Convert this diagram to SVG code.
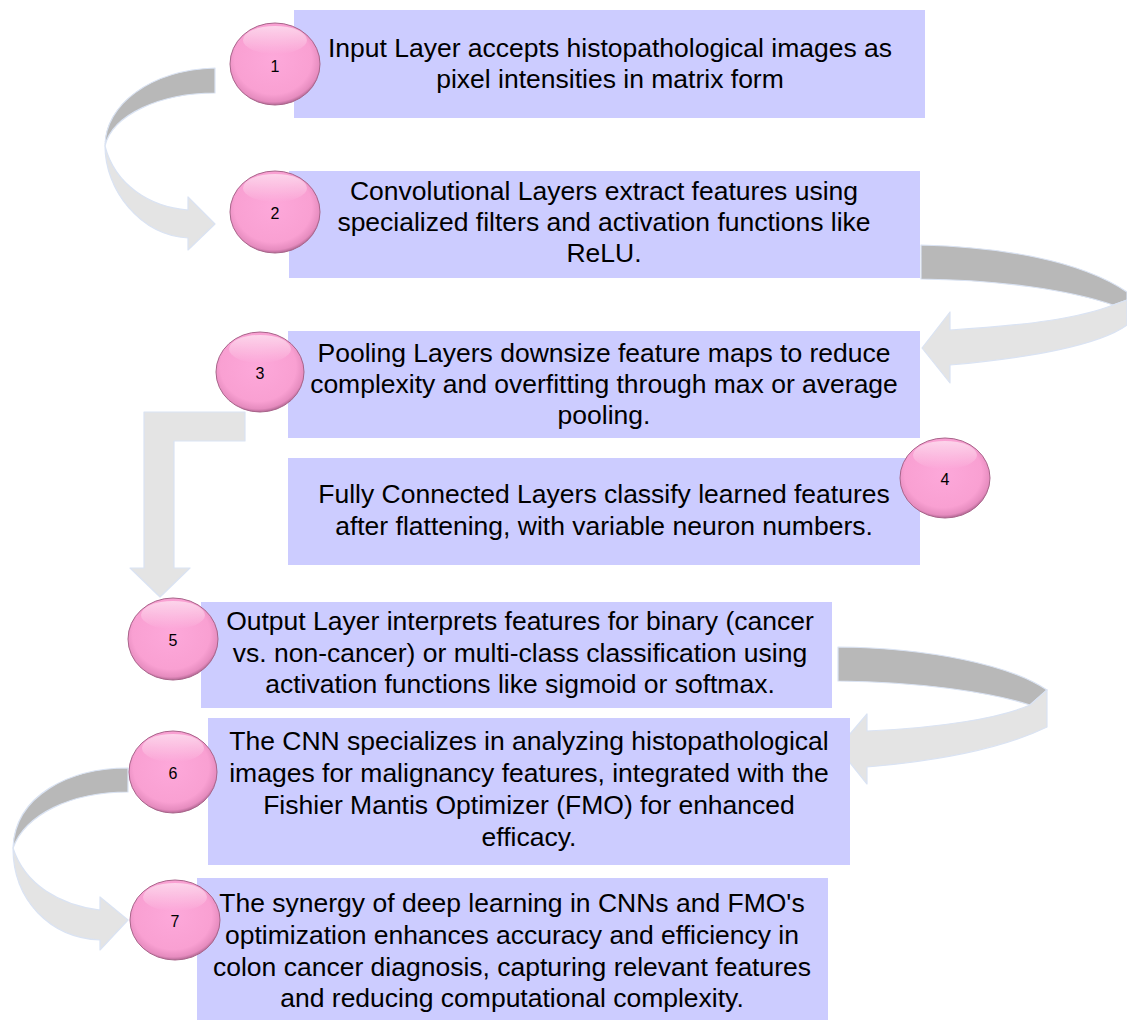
<svg xmlns="http://www.w3.org/2000/svg" width="1127" height="1023" viewBox="0 0 1127 1023">
<defs>
<style>
.box{fill:#ccccff}
.t{font-family:"Liberation Sans",Arial,sans-serif;font-size:26.5px;fill:#000;text-anchor:middle}
.n{font-family:"Liberation Sans",Arial,sans-serif;font-size:16px;fill:#000;text-anchor:middle;dominant-baseline:central}
.dk{fill:#b8b8b8;stroke:#dae3f3;stroke-width:1.2;stroke-linejoin:round}
.lt{fill:#e4e4e4;stroke:#dae3f3;stroke-width:1.2;stroke-linejoin:round}
.ball{fill:url(#pk);stroke:#a8648a;stroke-width:1}
.hl{fill:url(#hlg)}
</style>
<radialGradient id="pk" cx="48%" cy="44%" r="58%">
<stop offset="0" stop-color="#fda8da"/>
<stop offset="0.74" stop-color="#f9a0d2"/>
<stop offset="0.9" stop-color="#e68cbf"/>
<stop offset="1" stop-color="#9c5680"/>
</radialGradient>
<linearGradient id="hlg" x1="0" y1="0" x2="0" y2="1">
<stop offset="0" stop-color="#ffffff" stop-opacity="0.55"/>
<stop offset="1" stop-color="#ffffff" stop-opacity="0"/>
</linearGradient>
</defs>
<rect width="1127" height="1023" fill="#ffffff"/>

<g id="connectors">
<g id="arrow-1-2">
<path class="dk" d="M215,68 C150,70 105,105 105,146 C112,115 160,93 215,93 Z"/>
<path class="lt" d="M105,146 C105,190 140,235 188,238 L188,250 L215,224 L188,197 L188,210 C150,207 115,185 105,146 Z"/>
</g>
<g id="arrow-2-3">
<path class="dk" d="M921,245 C1000,247 1080,260 1127,292 L1127,300 L1113,305 C1070,290 1000,280 921,279 Z"/>
<path class="lt" d="M1113,305 L1127,300 L1127,325 C1100,345 1030,358 950,365 L950,383 L922,348 L950,312 L950,330 C1030,325 1080,318 1113,305 Z"/>
</g>
<g id="arrow-3-5">
<path class="lt" d="M245,412 L144,412 L144,568 L130,568 L160,597 L190,568 L174,568 L174,441 L245,441 Z"/>
</g>
<g id="arrow-5-6">
<path class="dk" d="M838,647 C930,648 1010,665 1047,690 L1030,705 C990,692 920,682 838,681 Z"/>
<path class="lt" d="M1030,705 L1047,690 L1047,727 C1010,745 950,760 867,767 L867,784 L838,748 L867,714 L867,731 C940,728 1000,718 1030,705 Z"/>
</g>
<g id="arrow-6-7">
<path class="dk" d="M128,768 C70,768 15,795 13,848 C25,815 70,792 128,792 Z"/>
<path class="lt" d="M13,848 C13,900 50,938 100,940 L100,950 L128,920 L100,897 L100,910 C60,905 25,885 13,848 Z"/>
</g>
</g>

<g id="step1">
<rect class="box" x="294" y="10" width="631" height="108"/>
<text class="t" x="610" y="57">Input Layer accepts histopathological images as</text>
<text class="t" x="610" y="88">pixel intensities in matrix form</text>
<ellipse class="ball" cx="275" cy="64" rx="45" ry="41"/>
<ellipse class="hl" cx="275" cy="40" rx="32" ry="14"/>
<text class="n" x="275" y="66">1</text>
</g>

<g id="step2">
<rect class="box" x="289" y="171" width="631" height="107"/>
<text class="t" x="604" y="200">Convolutional Layers extract features using</text>
<text class="t" x="604" y="231">specialized filters and activation functions like</text>
<text class="t" x="604" y="262">ReLU.</text>
<ellipse class="ball" cx="275" cy="212" rx="45" ry="41"/>
<ellipse class="hl" cx="275" cy="188" rx="32" ry="14"/>
<text class="n" x="275" y="213">2</text>
</g>

<g id="step3">
<rect class="box" x="288" y="331" width="632" height="107"/>
<text class="t" x="604" y="362">Pooling Layers downsize feature maps to reduce</text>
<text class="t" x="604" y="393">complexity and overfitting through max or average</text>
<text class="t" x="604" y="424">pooling.</text>
<ellipse class="ball" cx="260" cy="372" rx="44" ry="40"/>
<ellipse class="hl" cx="260" cy="349" rx="31" ry="14"/>
<text class="n" x="260" y="373">3</text>
</g>

<g id="step4">
<rect class="box" x="288" y="458" width="632" height="107"/>
<text class="t" x="604" y="503">Fully Connected Layers classify learned features</text>
<text class="t" x="604" y="535">after flattening, with variable neuron numbers.</text>
<ellipse class="ball" cx="945" cy="478" rx="45" ry="40"/>
<ellipse class="hl" cx="945" cy="455" rx="32" ry="14"/>
<text class="n" x="945" y="479">4</text>
</g>

<g id="step5">
<rect class="box" x="201" y="602" width="631" height="106"/>
<text class="t" x="520" y="630">Output Layer interprets features for binary (cancer</text>
<text class="t" x="520" y="662">vs. non-cancer) or multi-class classification using</text>
<text class="t" x="520" y="693">activation functions like sigmoid or softmax.</text>
<ellipse class="ball" cx="173" cy="639" rx="45" ry="41"/>
<ellipse class="hl" cx="173" cy="615" rx="32" ry="14"/>
<text class="n" x="173" y="640">5</text>
</g>

<g id="step6">
<rect class="box" x="208" y="718" width="642" height="147"/>
<text class="t" x="529" y="750">The CNN specializes in analyzing histopathological</text>
<text class="t" x="529" y="782">images for malignancy features, integrated with the</text>
<text class="t" x="529" y="814">Fishier Mantis Optimizer (FMO) for enhanced</text>
<text class="t" x="529" y="846">efficacy.</text>
<ellipse class="ball" cx="173" cy="772" rx="44" ry="41"/>
<ellipse class="hl" cx="173" cy="748" rx="31" ry="14"/>
<text class="n" x="173" y="773">6</text>
</g>

<g id="step7">
<rect class="box" x="197" y="878" width="631" height="142"/>
<text class="t" x="512" y="912">The synergy of deep learning in CNNs and FMO's</text>
<text class="t" x="512" y="944">optimization enhances accuracy and efficiency in</text>
<text class="t" x="512" y="976">colon cancer diagnosis, capturing relevant features</text>
<text class="t" x="512" y="1007">and reducing computational complexity.</text>
<ellipse class="ball" cx="175" cy="920" rx="45" ry="40"/>
<ellipse class="hl" cx="175" cy="897" rx="32" ry="14"/>
<text class="n" x="175" y="921">7</text>
</g>
</svg>
